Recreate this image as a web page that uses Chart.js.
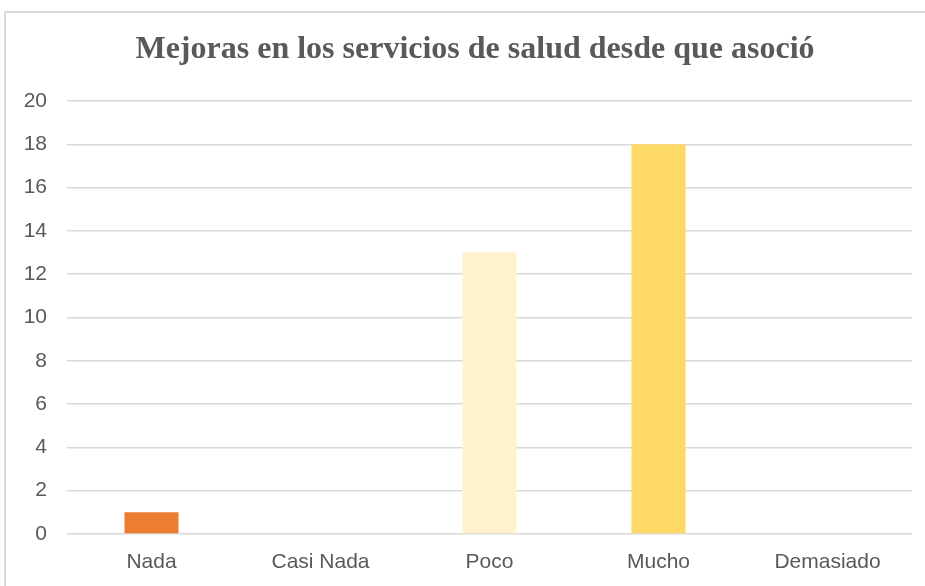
<!DOCTYPE html>
<html>
<head>
<meta charset="utf-8">
<script src="https://cdn.jsdelivr.net/npm/chart.js@4/dist/chart.umd.min.js"></script>
<style>
  body { margin: 0; background: #fff; }
  .wrap { position: relative; width: 925px; height: 586px; overflow: hidden; }
  .frame { position: absolute; left: 4px; top: 11px; width: 940px; height: 600px;
           border-left: 2px solid #d9d9d9; border-top: 2px solid #d9d9d9; }
  canvas { position: absolute; left: 0; top: 0; }
</style>
</head>
<body>
<div class="wrap">
  <div class="frame"></div>
  <canvas id="chart" width="925" height="586"></canvas>
</div>
<script>
const titleText = 'Mejoras en los servicios de salud desde que asoció'
const categories = ['Nada', 'Casi Nada', 'Poco', 'Mucho', 'Demasiado']
const values = [1, 0, 13, 18, 0]
const barColors = ['#ED7D31', '#F4B183', '#FFF2CC', '#FFD966', '#BF9000']
const yMin = 0
const yMax = 20
const yStep = 2

const labelFont = { family: "'Liberation Sans', Arial, sans-serif", size: 21 }

// the original title sits a bit right of the canvas centre
const shiftTitle = {
    id: 'shiftTitle',
    afterLayout(chart) {
        const t = chart.titleBlock
        if (t) t.left += 38
    }
}

new Chart(document.getElementById('chart'), {
    type: 'bar',
    data: {
        labels: categories,
        datasets: [{
            data: values,
            backgroundColor: barColors,
            borderWidth: 0,
            barPercentage: 0.32,
            categoryPercentage: 1
        }]
    },
    plugins: [shiftTitle],
    options: {
        responsive: false,
        animation: false,
        layout: { padding: { top: 31, right: 13, bottom: 0, left: 0 } },
        plugins: {
            legend: { display: false },
            tooltip: { enabled: false },
            title: {
                display: true,
                text: titleText,
                color: '#595959',
                font: { family: "'Liberation Serif', 'Times New Roman', serif", size: 32, weight: 'bold', lineHeight: 1.2 },
                padding: { top: 0, bottom: 31.6 }
            }
        },
        scales: {
            x: {
                afterFit: (scale) => { scale.height = 52 },
                grid: { display: false, drawTicks: false },
                border: { display: false },
                ticks: { color: '#595959', font: labelFont, padding: 16 }
            },
            y: {
                min: yMin,
                max: yMax,
                afterFit: (scale) => { scale.width = 67 },
                grid: { color: '#d9d9d9', lineWidth: 1.5, drawTicks: false },
                border: { display: false },
                ticks: { stepSize: yStep, color: '#595959', font: labelFont, padding: 20 }
            }
        }
    }
})
</script>
</body>
</html>
